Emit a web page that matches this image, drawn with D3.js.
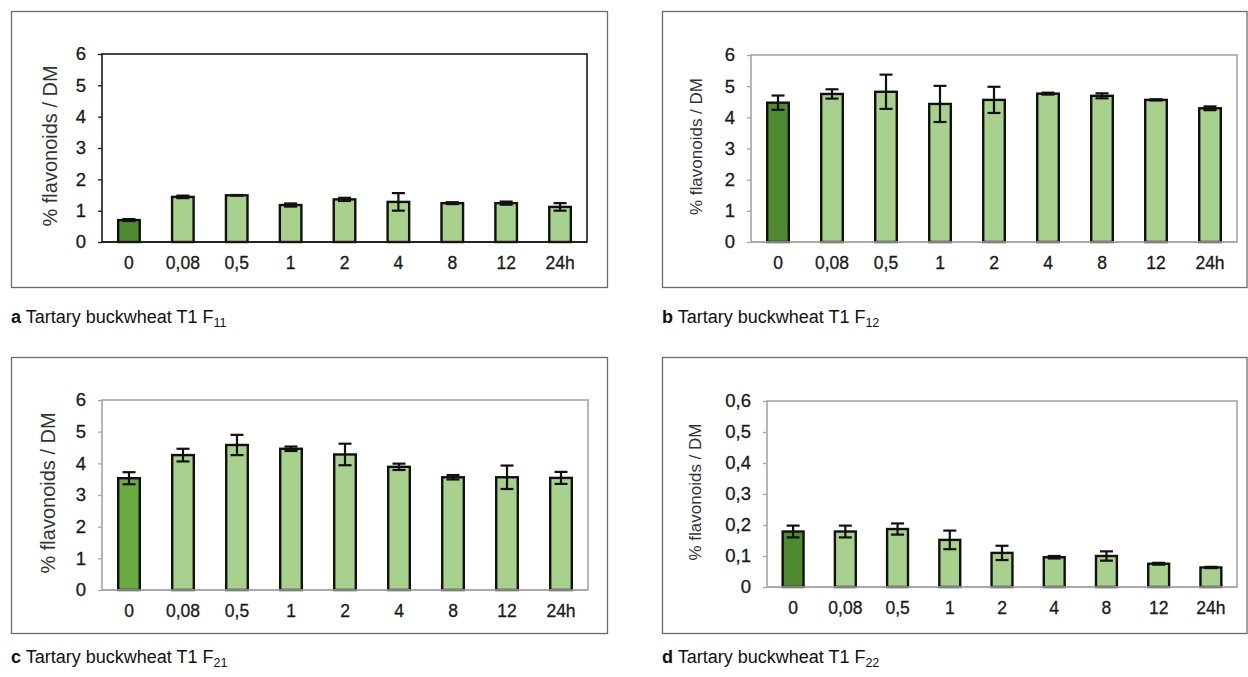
<!DOCTYPE html>
<html>
<head>
<meta charset="utf-8">
<script src="https://cdn.jsdelivr.net/npm/d3@7"></script>
<style>
  html, body { margin: 0; padding: 0; background: #fff; }
  svg { display: block; font-family: "Liberation Sans", Arial, sans-serif; }
</style>
</head>
<body>
<svg id="chart" width="1248" height="677"></svg>
<script>
// ---- data ----
const categories = ["0", "0,08", "0,5", "1", "2", "4", "8", "12", "24h"];

const valuesA = [0.70, 1.44, 1.49, 1.18, 1.36, 1.28, 1.24, 1.24, 1.12];
const errorsA = [0.03, 0.04, 0.01, 0.05, 0.05, 0.28, 0.03, 0.05, 0.12];

const valuesB = [4.47, 4.75, 4.82, 4.43, 4.56, 4.76, 4.69, 4.56, 4.29];
const errorsB = [0.23, 0.15, 0.55, 0.58, 0.42, 0.03, 0.08, 0.02, 0.06];

const valuesC = [3.53, 4.26, 4.58, 4.46, 4.28, 3.89, 3.56, 3.56, 3.54];
const errorsC = [0.19, 0.20, 0.32, 0.07, 0.34, 0.10, 0.07, 0.37, 0.19];

const valuesD = [0.179, 0.179, 0.187, 0.152, 0.110, 0.096, 0.100, 0.075, 0.063];
const errorsD = [0.019, 0.019, 0.018, 0.030, 0.023, 0.004, 0.015, 0.003, 0.002];

const yTicksBig = [0, 1, 2, 3, 4, 5, 6];
const yTicksSmall = [0, 0.1, 0.2, 0.3, 0.4, 0.5, 0.6];

const captionLetters = ["a", "b", "c", "d"];
const captionText = "Tartary buckwheat T1 F";
const captionSubs = ["11", "12", "21", "22"];
const yTitle = "% flavonoids / DM";

// ---- layout ----
const panels = [
  { values: valuesA, errors: errorsA, ticks: yTicksBig, max: 6,
    box: [11.5, 11.5, 607.5, 287.5], plot: [102, 54, 587, 242],
    first: "#4f8a31", frame: "#1a1a1a", titleX: 52, titleSize: 20, cap: [11, 323] },
  { values: valuesB, errors: errorsB, ticks: yTicksBig, max: 6,
    box: [662.5, 11.5, 1247, 287.5], plot: [751, 55, 1237, 242],
    first: "#4f8a31", frame: "#a6a6a6", titleX: 698, titleSize: 17, cap: [662, 323] },
  { values: valuesC, errors: errorsC, ticks: yTicksBig, max: 6,
    box: [11.5, 357.5, 607.5, 633.5], plot: [102, 400, 588, 590],
    first: "#6aab40", frame: "#a6a6a6", titleX: 50, titleSize: 20, cap: [11, 663] },
  { values: valuesD, errors: errorsD, ticks: yTicksSmall, max: 0.6,
    box: [662.5, 357.5, 1247, 633.5], plot: [767, 401, 1237, 587],
    first: "#4f8a31", frame: "#a6a6a6", titleX: 697, titleSize: 17, cap: [662, 663] }
];

const svg = d3.select("#chart");
const fmt = v => String(v).replace(".", ",");

panels.forEach((p, i) => {
  const [bx0, by0, bx1, by1] = p.box;
  svg.append("rect")
    .attr("x", bx0).attr("y", by0)
    .attr("width", bx1 - bx0).attr("height", by1 - by0)
    .attr("fill", "none").attr("stroke", "#6b6b6b").attr("stroke-width", 1.3);

  const [L, T, R, B] = p.plot;
  const x = d3.scaleBand().domain(categories).range([L, R]).paddingInner(0.6).paddingOuter(0.3);
  const y = d3.scaleLinear().domain([0, p.max]).range([B, T]);
  const g = svg.append("g");

  // plot frame
  g.append("rect")
    .attr("x", L).attr("y", T).attr("width", R - L).attr("height", B - T)
    .attr("fill", "none").attr("stroke", p.frame).attr("stroke-width", 1.6);

  // y axis
  const yAxis = d3.axisLeft(y).tickValues(p.ticks).tickSize(4).tickPadding(12)
    .tickFormat(fmt);
  const ya = g.append("g").attr("transform", `translate(${L},0)`).call(yAxis);
  ya.select(".domain").remove();
  ya.selectAll(".tick line").attr("stroke", p.frame).attr("stroke-width", 1.3);
  ya.selectAll(".tick text").attr("fill", "#1a1a1a").attr("font-size", 18.5)
    .attr("stroke", "#1a1a1a").attr("stroke-width", 0.3)
    .attr("font-family", "Liberation Sans, Arial, sans-serif");

  // x axis
  const xAxis = d3.axisBottom(x).tickSize(0).tickPadding(15);
  const xa = g.append("g").attr("transform", `translate(0,${B})`).call(xAxis);
  xa.select(".domain").remove();
  xa.selectAll(".tick text").attr("fill", "#1a1a1a").attr("font-size", 17.5)
    .attr("stroke", "#1a1a1a").attr("stroke-width", 0.3)
    .attr("font-family", "Liberation Sans, Arial, sans-serif");

  // bars
  g.selectAll(".bar").data(p.values).enter().append("rect")
    .attr("x", (d, j) => x(categories[j]))
    .attr("y", d => y(d))
    .attr("width", x.bandwidth())
    .attr("height", d => y(0) - y(d))
    .attr("fill", (d, j) => j === 0 ? p.first : "#a9d18e")
    .attr("stroke", "#111").attr("stroke-width", 2.4);

  // baseline
  g.append("line").attr("x1", L).attr("x2", R).attr("y1", B).attr("y2", B)
    .attr("stroke", p.frame).attr("stroke-width", 1.6);

  // error bars
  const cw = 6.5;
  p.values.forEach((v, j) => {
    const cx = x(categories[j]) + x.bandwidth() / 2;
    const e = p.errors[j];
    const eg = g.append("g").attr("stroke", "#111").attr("stroke-width", 2.2);
    eg.append("line").attr("x1", cx).attr("x2", cx).attr("y1", y(v + e)).attr("y2", y(v - e));
    eg.append("line").attr("x1", cx - cw).attr("x2", cx + cw).attr("y1", y(v + e)).attr("y2", y(v + e));
    eg.append("line").attr("x1", cx - cw).attr("x2", cx + cw).attr("y1", y(v - e)).attr("y2", y(v - e));
  });

  // y title
  g.append("text")
    .attr("transform", `translate(${p.titleX},${(T + B) / 2 - 2}) rotate(-90)`)
    .attr("text-anchor", "middle").attr("dominant-baseline", "middle")
    .attr("font-size", p.titleSize).attr("fill", "#333")
    .text(yTitle);

  // caption
  const cap = svg.append("text").attr("x", p.cap[0]).attr("y", p.cap[1])
    .attr("font-size", 18).attr("fill", "#111");
  cap.append("tspan").attr("font-weight", "bold").text(captionLetters[i]);
  cap.append("tspan").text(" " + captionText);
  cap.append("tspan").attr("font-size", 12.5).attr("dy", 4).text(captionSubs[i]);
});
</script>
</body>
</html>
